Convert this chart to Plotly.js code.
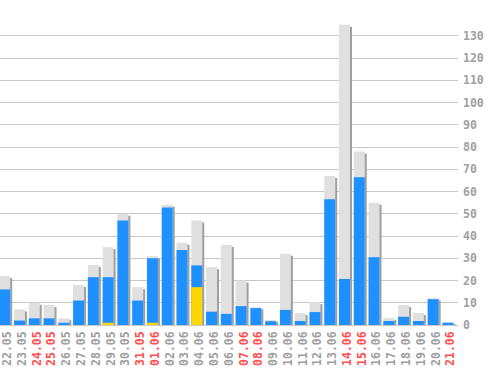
<!DOCTYPE html>
<html><head><meta charset="utf-8">
<script src="https://cdn.plot.ly/plotly-3.0.1.min.js"></script>
<style>html,body{margin:0;padding:0;background:#fff}</style>
</head><body><div id="chart" style="width:498px;height:370px"></div>
<script>
const labels = ["22.05","23.05","24.05","25.05","26.05","27.05","28.05","29.05","30.05","31.05",
  "01.06","02.06","03.06","04.06","05.06","06.06","07.06","08.06","09.06","10.06",
  "11.06","12.06","13.06","14.06","15.06","16.06","17.06","18.06","19.06","20.06","21.06"];
const weekend = [0,0,1,1,0,0,0,0,0,1, 1,0,0,0,0,0,1,1,0,0, 0,0,0,1,1,0,0,0,0,0,1];
const total  = [22,7,10,9,3,18,27,35,50,17, 31,54,37,47,26,36,20,8,2.3,32, 5.4,10.3,67,135,78,55,3.1,9,5.4,12,1.4];
const blue   = [16,2,3,3,1,11,21.5,21.5,47,11, 30,52.8,33.7,26.8,6,5,8.5,7.6,1.7,6.8, 1.8,5.8,56.5,20.7,66.4,30.5,1.8,3.7,1.8,11.6,1];
const yellow = [0,0,0,0,0,0,0,1,0,0, 1,0,0,17,0,0,0,0,0,0, 0,0,0,0,0,0,0,0,0,0,0];

const idx = labels.map((_, i) => i);
const W = 498, H = 370, mL = 0, mR = 40, mT = 16, mB = 45;
const plotW = W - mL - mR, plotH = H - mT - mB;
const xr = [-0.5, labels.length - 0.5];
const pxPerX = plotW / (xr[1] - xr[0]);
const yTop = 138.9;
const pxPerY = plotH / yTop;
const shadowDX = 2 / pxPerX, shadowDY = 2 / pxPerY;
const barW = 11 / pxPerX;
const barOff = -0.5 - 0.8 / pxPerX;

const font = {family: "DejaVu Sans Mono", size: 11.5, color: "#a0a0a0", weight: "bold"};
const ticktext = labels.map((l, i) => weekend[i] ? '<span style="color:#ff5050">' + l + '</span>' : l);

const common = {type: 'bar', x: idx, width: barW, offset: barOff, hoverinfo: 'skip'};
const traces = [
  Object.assign({}, common, {y: total, xaxis: 'x', yaxis: 'y', marker: {color: '#a0a0a0', line: {width: 0}}}),
  Object.assign({}, common, {y: total, xaxis: 'x2', yaxis: 'y2', marker: {color: '#e0e0e0', line: {width: 0}}}),
  Object.assign({}, common, {y: blue, xaxis: 'x2', yaxis: 'y2', marker: {color: '#1e90ff', line: {width: 0}}}),
  Object.assign({}, common, {y: yellow, xaxis: 'x2', yaxis: 'y2', marker: {color: '#ffd700', line: {width: 0}}})
];

const layout = {
  width: W, height: H,
  margin: {l: mL, r: mR, t: mT, b: mB, pad: 0},
  paper_bgcolor: '#ffffff', plot_bgcolor: 'rgba(0,0,0,0)',
  showlegend: false, barmode: 'overlay', hovermode: false,
  xaxis: {range: [xr[0] - shadowDX, xr[1] - shadowDX], visible: false, fixedrange: true},
  yaxis: {range: [shadowDY, yTop + shadowDY], visible: false, fixedrange: true},
  xaxis2: {overlaying: 'x', range: xr, tickmode: 'array', tickvals: idx, ticktext: ticktext,
    tickangle: -90, tickfont: font, showgrid: false, zeroline: false, showline: false, ticks: '',
    ticklabelstandoff: 3, fixedrange: true},
  yaxis2: {overlaying: 'y', side: 'right', range: [0, yTop], dtick: 10, tick0: 0, tickfont: font,
    showgrid: true, gridcolor: '#c8c8c8', gridwidth: 1, zeroline: true, zerolinecolor: '#c8c8c8', zerolinewidth: 1,
    showline: false, ticks: '', ticklabelstandoff: 4, fixedrange: true}
};
Plotly.newPlot('chart', traces, layout, {displayModeBar: false, staticPlot: true});
</script></body></html>
